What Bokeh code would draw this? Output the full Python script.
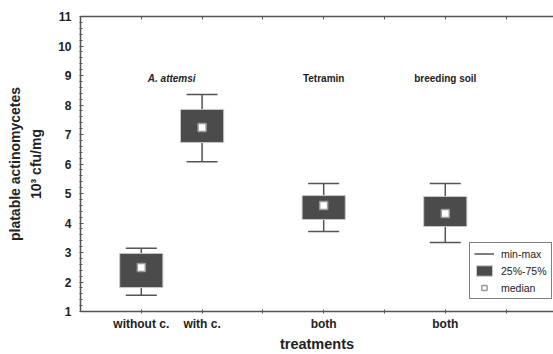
from bokeh.plotting import figure
from bokeh.models import (ColumnDataSource, FixedTicker, LinearAxis, Legend, LegendItem,
                          Range1d, CustomLabelingPolicy)
from bokeh.core.properties import value
from bokeh.embed import file_html
from bokeh.resources import INLINE

# ---- data ----
positions = [1, 2, 4, 6]
mins = [1.55, 6.08, 3.71, 3.34]
q1s = [1.81, 6.73, 4.12, 3.88]
medians = [2.49, 7.24, 4.59, 4.32]
q3s = [2.97, 7.85, 4.93, 4.90]
maxs = [3.14, 8.36, 5.34, 5.34]

tick_positions = [1, 2, 3, 4, 5, 6, 7]
tick_labels = ["without c.", "with c.", "", "both", "", "both", ""]

group_labels = ["A. attemsi", "Tetramin", "breeding soil"]
group_x = [1.5, 4, 6]
group_y = [8.9, 8.9, 8.9]
group_styles = ["bold italic", "bold", "bold"]

FONT = "Liberation Sans"
BOX_W = 0.71
CAP_W = 0.51

src = ColumnDataSource(dict(
    x=positions, lo=mins, q1=q1s, med=medians, q3=q3s, hi=maxs,
    mid=[(a + b) / 2 for a, b in zip(q1s, q3s)],
    h=[b - a for a, b in zip(q1s, q3s)],
    cl=[x - CAP_W / 2 for x in positions],
    cr=[x + CAP_W / 2 for x in positions],
))

p = figure(width=553, height=354, output_backend="svg", toolbar_location=None,
           x_range=Range1d(0, 7.78), y_range=Range1d(1, 11))
p.min_border_left = 80
p.min_border_right = 0
p.min_border_top = 16
p.min_border_bottom = 43
p.outline_line_color = None
p.xgrid.visible = False
p.ygrid.visible = False
p.background_fill_color = "white"
p.border_fill_color = "white"

AX = "#555555"

# whiskers
stem = p.segment(x0="x", y0="lo", x1="x", y1="hi", source=src, line_color=AX, line_width=1.5)
p.segment(x0="cl", y0="lo", x1="cr", y1="lo", source=src, line_color=AX, line_width=1.5)
p.segment(x0="cl", y0="hi", x1="cr", y1="hi", source=src, line_color=AX, line_width=1.5)
# boxes
box = p.rect(x="x", y="mid", width=BOX_W, height="h", source=src,
             fill_color="#4b4b4b", line_color="#c8c8c8", line_width=1)
# medians
med = p.scatter(x="x", y="med", source=src, marker="square", size=8,
                fill_color="white", line_color="#9a9a9a", line_width=1.5)

# group labels
for lab, gx, gy, st in zip(group_labels, group_x, group_y, group_styles):
    p.text(x=[gx], y=[gy], text=[lab], text_align="center", text_baseline="middle",
           text_font=value(FONT), text_font_style=st, text_font_size="10px", text_color="#222222")

# axes
keep = [i for i, l in enumerate(tick_labels) if l]
xa = p.xaxis[0]
xa.ticker = FixedTicker(ticks=tick_positions)
xa.major_label_overrides = {t: l for t, l in zip(tick_positions, tick_labels)}
xa.major_label_policy = CustomLabelingPolicy(
    code="const keep = new Set(%s); const r = new Set(); for (const i of indices) { if (keep.has(i)) r.add(i) } return r" % keep)
xa.axis_label = "treatments"
ya = p.yaxis[0]
ya.ticker = FixedTicker(ticks=list(range(1, 12)),
                        minor_ticks=[1 + i * 0.2 for i in range(51)])
ya.axis_label = "platable actinomycetes\n10\u00b3 cfu/mg"

for ax in (xa, ya):
    ax.axis_line_color = AX
    ax.axis_line_width = 1.5
    ax.major_tick_line_color = AX
    ax.minor_tick_line_color = AX
    ax.major_label_text_font = FONT
    ax.major_label_text_font_style = "bold"
    ax.major_label_text_font_size = "12px"
    ax.major_label_text_color = "#222222"
    ax.axis_label_text_font = FONT
    ax.axis_label_text_font_style = "bold"
    ax.axis_label_text_color = "#222222"

xa.major_tick_in = 2
xa.major_tick_out = 2
xa.minor_tick_line_color = None
xa.major_label_standoff = 3
xa.axis_label_text_font_size = "14.5px"
xa.axis_label_standoff = 2

ya.major_tick_in = 3
ya.major_tick_out = 0
ya.minor_tick_in = 2
ya.minor_tick_out = 1
ya.major_label_standoff = 8
ya.axis_label_text_font_size = "14px"
ya.axis_label_text_line_height = 1.35
ya.axis_label_standoff = 11

top = LinearAxis(ticker=FixedTicker(ticks=tick_positions))
top.major_label_policy = CustomLabelingPolicy(code="return new Set()")
top.major_label_text_font_size = "1px"
top.major_label_standoff = 0
top.major_tick_in = 3
top.major_tick_out = 0
top.minor_tick_line_color = None
top.axis_line_color = AX
top.axis_line_width = 1.5
top.major_tick_line_color = AX
p.add_layout(top, "above")

legend = Legend(items=[
    LegendItem(label="min-max", renderers=[stem]),
    LegendItem(label="25%-75%", renderers=[box]),
    LegendItem(label="median", renderers=[med]),
], location=(389, 12))
legend.label_text_font = FONT
legend.label_text_font_size = "10.5px"
legend.label_text_color = "#222222"
legend.label_height = 13
legend.border_line_color = "black"
legend.border_line_width = 1
legend.glyph_width = 20
legend.glyph_height = 13
legend.spacing = 4
legend.padding = 4
legend.margin = 0
legend.title_standoff = 0
legend.label_standoff = 7
p.add_layout(legend, "center")

open("out.html", "w").write(file_html(p, INLINE))
